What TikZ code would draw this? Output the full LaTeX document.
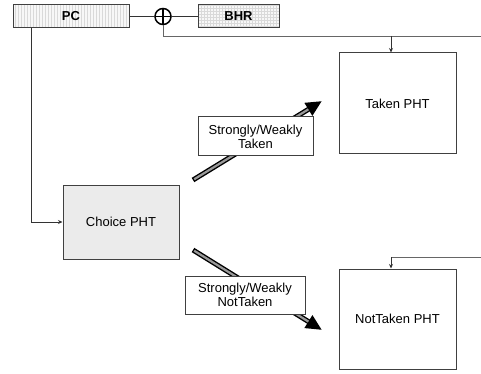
\documentclass[tikz,border=0pt]{standalone}
\usepackage{fontspec}
\setmainfont{Liberation Sans}
\usetikzlibrary{arrows.meta,patterns,calc}
\begin{document}
\begin{tikzpicture}[x=1pt,y=-1pt,
  box/.style={draw=black!75, line width=1pt, inner sep=0pt, font=\fontsize{13}{14}\selectfont, align=center},
  regbox/.style={box, font=\fontsize{13}{14}\selectfont\bfseries},
  wire/.style={draw=black!80, line width=0.9pt},
  smallarrow/.style={wire, -{Stealth[length=4.5pt,width=4pt]}},
  bigouter/.style={line width=5pt, black, -{Triangle[length=16pt,width=14pt]}},
  biginner/.style={line width=2.2pt, black!40, shorten >=16pt, shorten <=1.4pt}
]
\useasboundingbox (0,0) rectangle (481,374);
% registers
\node[regbox, minimum width=116pt, minimum height=23pt,
      preaction={fill=gray!6}, pattern=vertical lines, pattern color=gray!30] (pc) at (71,16.5) {PC};
\node[regbox, minimum width=81pt, minimum height=23pt,
      preaction={fill=gray!6}, pattern=grid, pattern color=gray!30] (bhr) at (238.5,16.5) {BHR};
\node[circle, draw=black, line width=1.5pt, minimum size=16pt, inner sep=0pt,
      path picture={\draw[line width=1.2pt] (path picture bounding box.north) -- (path picture bounding box.south)
                    (path picture bounding box.west) -- (path picture bounding box.east);}] (xor) at (163,16.5) {};
% tables
\node[box, minimum width=116pt, minimum height=74pt, fill=gray!16] (choice) at (121,222) {Choice PHT};
\node[box, minimum width=117pt, minimum height=101pt] (taken) at (397.5,103.5) {Taken PHT};
\node[box, minimum width=117pt, minimum height=100pt] (nottaken) at (397.5,319) {NotTaken PHT};
% wires
\draw[wire] (pc.east) -- (xor.west);
\draw[wire] (xor.east) -- (bhr.west);
\coordinate (c1) at (481,36);
\coordinate (t1) at (391,36);
\draw[wire, draw=black!60] (xor.south) |- (c1);
\draw[smallarrow] (t1) -- (t1 |- taken.north);
\coordinate (c2) at (481,257);
\coordinate (t2) at (391,257);
\draw[wire, draw=black!60] (c2) -- (t2);
\draw[smallarrow] (t2) -- (t2 |- nottaken.north);
\coordinate (p1) at (31,28);
\draw[smallarrow] (p1) |- (choice.west);
% big arrows
\coordinate (a1) at (193,180);
\coordinate (a2) at (322,101);
\coordinate (b1) at (193,250);
\coordinate (b2) at (322,330);
\draw[bigouter] (a1) -- (a2);
\draw[biginner] (a1) -- (a2);
\draw[bigouter] (b1) -- (b2);
\draw[biginner] (b1) -- (b2);
% labels
\node[box, fill=white, minimum width=115pt, minimum height=39pt] (lab1) at (255.5,136.5) {Strongly/Weakly\\Taken};
\node[box, fill=white, minimum width=120pt, minimum height=38pt] (lab2) at (245,295) {Strongly/Weakly\\NotTaken};
\end{tikzpicture}
\end{document}
